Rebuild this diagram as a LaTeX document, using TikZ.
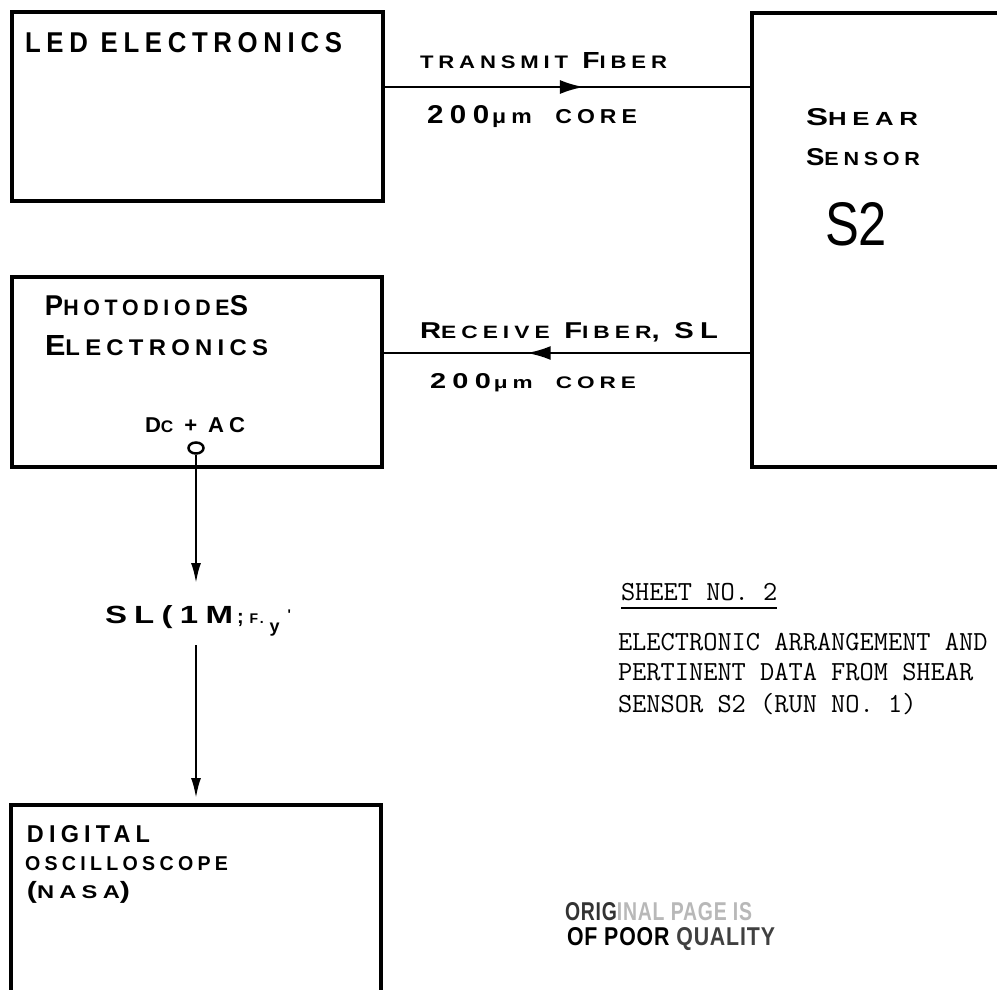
\documentclass[tikz,border=0pt]{standalone}
\usepackage{fontspec}
\usepackage{graphicx}
\usetikzlibrary{arrows.meta,decorations.markings,calc,shapes.geometric}
\newfontfamily\hand{Liberation Sans}[LetterSpace=22]
\newfontfamily\plainsans{Liberation Sans}
\newfontfamily\stampfont{Liberation Sans}[LetterSpace=4]
\newcommand\lo[1]{{\fontsize{7.8}{8}\selectfont #1}}
\newcommand\fitbox[3]{\resizebox{#1pt}{#2pt}{\hand\bfseries #3}}
\begin{document}
\begin{tikzpicture}[x=1pt,y=-1pt,
  box/.style={draw, line width=3.8pt, rectangle, inner sep=0},
  lbl/.style={anchor=base west, inner sep=0, outer sep=0},
  fiber/.style={line width=2.6pt},
  sig/.style={line width=2.2pt, -{Latex[length=20pt,width=10pt]}},
  tw/.style={lbl, font=\ttfamily\fontsize{27.6}{30}\selectfont},
]
\useasboundingbox (0,0) rectangle (997,989);
\clip (0,0) rectangle (997,989);
\fill[white] (0,0) rectangle (997,989);

% boxes
\node[box, minimum width=371pt, minimum height=189pt] (led) at (197.5,106.5) {};
\node[box, minimum width=370pt, minimum height=190pt] (photo) at (197,372) {};
\node[box, minimum width=300pt, minimum height=454pt] (sensor) at (902,240) {};
\node[box, minimum width=370pt, minimum height=260pt] (osc) at (196,935) {};

% fibers
\coordinate (txy) at (0,87);
\coordinate (rxy) at (0,353);
\draw[fiber, postaction={decorate}, decoration={markings, mark=at position 0.545 with {\arrow{Latex[length=24pt,width=14pt]}}}]
  (led.east |- txy) -- (sensor.west |- txy);
\draw[fiber, postaction={decorate}, decoration={markings, mark=at position 0.61 with {\arrow{Latex[length=24pt,width=14pt]}}}]
  (sensor.west |- rxy) -- (photo.east |- rxy);

% output terminal and signal line
\node[draw, ellipse, line width=2.5pt, minimum width=15pt, minimum height=11pt, inner sep=0] (term) at (196,448) {};
\coordinate (slTop) at (196,583);
\coordinate (slBot) at (196,645);
\coordinate (oscIn) at (196,798);
\draw[sig] (term) -- (slTop);
\draw[sig] (slBot) -- (oscIn);

% hand-lettered labels
\node[lbl] (ledT) at (25,52) {\fitbox{317}{20}{LED ELECTRONICS}};
\node[lbl] (txT) at (420,68) {\fitbox{247}{16}{\lo{TRANSMIT} F\lo{IBER}}};
\node[lbl] (txC) at (427,123) {\fitbox{210}{18}{200\hspace{1pt}\lo{μm}\hspace{3pt} \lo{CORE}}};
\node[lbl] (rxT) at (420,338) {\fitbox{298}{16}{R\lo{ECEIVE} F\lo{IBER}, SL}};
\node[lbl] (rxC) at (430,388) {\fitbox{206}{15}{200\hspace{1pt}\lo{μm}\hspace{3pt} \lo{CORE}}};
\node[lbl] (phT1) at (45,315) {\fitbox{203}{20}{P\lo{HOTODIODE}S}};
\node[lbl] (phT2) at (45,355) {\fitbox{223}{20}{E\lo{LECTRONICS}}};
\node[lbl] (dcac) at (145,432) {\fitbox{100}{15}{D\lo{C} + AC}};
\node[lbl] (sh1) at (806,125) {\fitbox{112}{17}{S\lo{HEAR}}};
\node[lbl] (sh2) at (806,165) {\fitbox{114}{17}{S\lo{ENSOR}}};
\node[lbl] (s2) at (825,245) {\resizebox{62pt}{43pt}{\plainsans S2}};
\node[lbl] (sl) at (105,623) {\fitbox{128}{18}{SL(1M}\hspace{4pt}{\hand\bfseries\fontsize{20}{20}\selectfont ;\hspace{6pt}{\fontsize{14}{14}\selectfont F.\hspace{6pt}\raisebox{-9pt}{\fontsize{18}{18}\selectfont y}\hspace{8pt}\raisebox{4pt}{'}}}};
\node[lbl] (dig1) at (27,842) {\fitbox{123}{17}{DIGITAL}};
\node[lbl] (dig2) at (25,870) {\fitbox{203}{14}{OSCILLOSCOPE}};
\node[lbl] (dig3) at (27,898) {\resizebox*{103pt}{22pt}{\hand\bfseries (\lo{NASA})}};

% typewritten caption
\node[tw] (sheet) at (621,600) {SHEET NO. 2};
\draw[line width=2pt] ([yshift=-8pt]sheet.south west) -- ([yshift=-8pt]sheet.south east);
\node[tw] (cap1) at (618,650) {ELECTRONIC ARRANGEMENT AND};
\node[tw] (cap2) at (618,680) {PERTINENT DATA FROM SHEAR};
\node[tw] (cap3) at (618,712) {SENSOR S2 (RUN NO. 1)};

% stamp
\node[lbl] (st1) at (565,920) {\resizebox{187pt}{18pt}{\stampfont\bfseries{\color{black!80}ORIG}{\color{black!28}INAL PAGE IS}}};
\node[lbl] (st2) at (567,945) {\resizebox{208pt}{18pt}{\stampfont\bfseries OF POOR {\color{black!75}QUALITY}}};
\end{tikzpicture}
\end{document}
